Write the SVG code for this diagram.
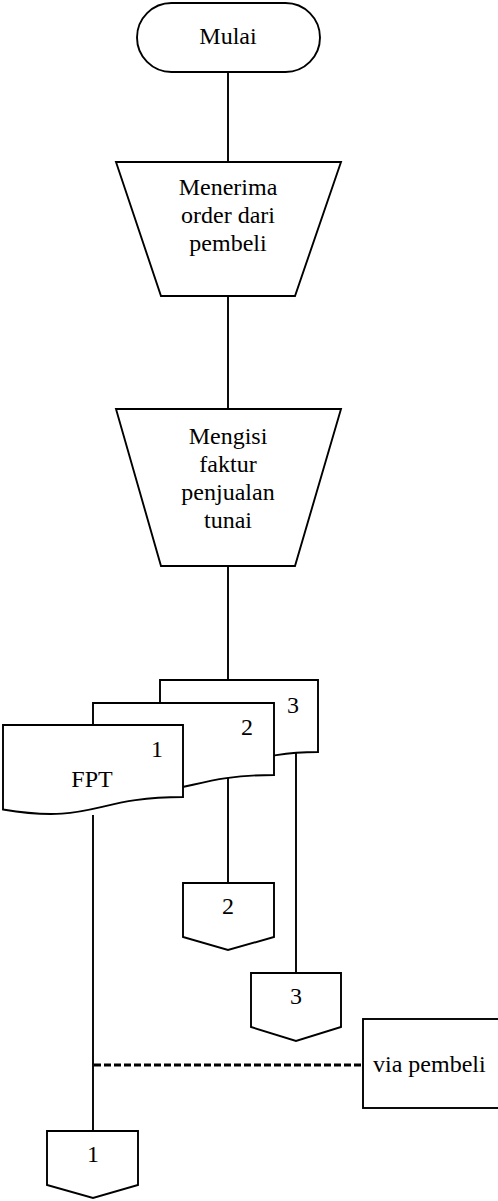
<svg xmlns="http://www.w3.org/2000/svg" width="498" height="1201" viewBox="0 0 498 1201">
  <style>
    .shape { fill: #ffffff; stroke: #000000; stroke-width: 1.9; stroke-linejoin: miter; }
    .line { fill: none; stroke: #000000; stroke-width: 1.9; }
    .dash { fill: none; stroke: #000000; stroke-width: 3; stroke-dasharray: 7 3; }
    text { font-family: "Liberation Serif", "Times New Roman", serif; font-size: 24px; fill: #000000; }
    .c { text-anchor: middle; }
  </style>

  <rect width="498" height="1201" fill="#ffffff"/>

  <!-- connectors -->
  <g id="connectors">
    <line class="line" x1="228" y1="72" x2="228" y2="162"/>
    <line class="line" x1="228" y1="296" x2="228" y2="409"/>
    <line class="line" x1="228" y1="566" x2="228" y2="680"/>
    <line class="line" x1="228" y1="769" x2="228" y2="883"/>
    <line class="line" x1="296" y1="747" x2="296" y2="973"/>
    <line class="line" x1="93" y1="815" x2="93" y2="1131"/>
    <line class="dash" x1="94" y1="1065" x2="363" y2="1065"/>
  </g>

  <!-- start terminator -->
  <g id="start">
    <rect class="shape" x="137" y="3" width="183" height="69" rx="34.5" ry="34.5"/>
    <text class="c" x="228" y="44">Mulai</text>
  </g>

  <!-- manual operation: receive order -->
  <g id="receive-order">
    <polygon class="shape" points="116,162 341,162 295,296 161,296"/>
    <text class="c" x="228" y="195">Menerima</text>
    <text class="c" x="228" y="223">order dari</text>
    <text class="c" x="228" y="251">pembeli</text>
  </g>

  <!-- manual operation: fill invoice -->
  <g id="fill-invoice">
    <polygon class="shape" points="116,409 341,409 295,566 161,566"/>
    <text class="c" x="228" y="444">Mengisi</text>
    <text class="c" x="228" y="472">faktur</text>
    <text class="c" x="228" y="500">penjualan</text>
    <text class="c" x="228" y="528">tunai</text>
  </g>

  <!-- invoice copy 3 -->
  <g id="doc-3">
    <path class="shape" d="M160,680 H318 V752 C239,752 239,779.6 160,764 Z"/>
    <text class="c" x="293" y="713">3</text>
  </g>

  <!-- invoice copy 2 -->
  <g id="doc-2">
    <path class="shape" d="M93,703 H274 V775 C183.5,775 183.5,802.6 93,787 Z"/>
    <text class="c" x="247" y="735">2</text>
  </g>

  <!-- invoice copy 1 (FPT) -->
  <g id="doc-1">
    <path class="shape" d="M3,725 H183 V797 C93,797 93,824.6 3,809.5 Z"/>
    <text class="c" x="157" y="757">1</text>
    <text class="c" x="92" y="787">FPT</text>
  </g>

  <!-- off-page connector 2 -->
  <g id="offpage-2">
    <polygon class="shape" points="183,883 274,883 274,937 228,950 183,937"/>
    <text class="c" x="228" y="914">2</text>
  </g>

  <!-- off-page connector 3 -->
  <g id="offpage-3">
    <polygon class="shape" points="251,973 341,973 341,1027 296,1041 251,1027"/>
    <text class="c" x="296" y="1004">3</text>
  </g>

  <!-- annotation -->
  <g id="via-pembeli">
    <rect class="shape" x="363" y="1019" width="140" height="89"/>
    <text x="373" y="1072">via pembeli</text>
  </g>

  <!-- off-page connector 1 -->
  <g id="offpage-1">
    <polygon class="shape" points="47,1131 138,1131 138,1185 93,1198 47,1185"/>
    <text class="c" x="93" y="1162">1</text>
  </g>
</svg>
